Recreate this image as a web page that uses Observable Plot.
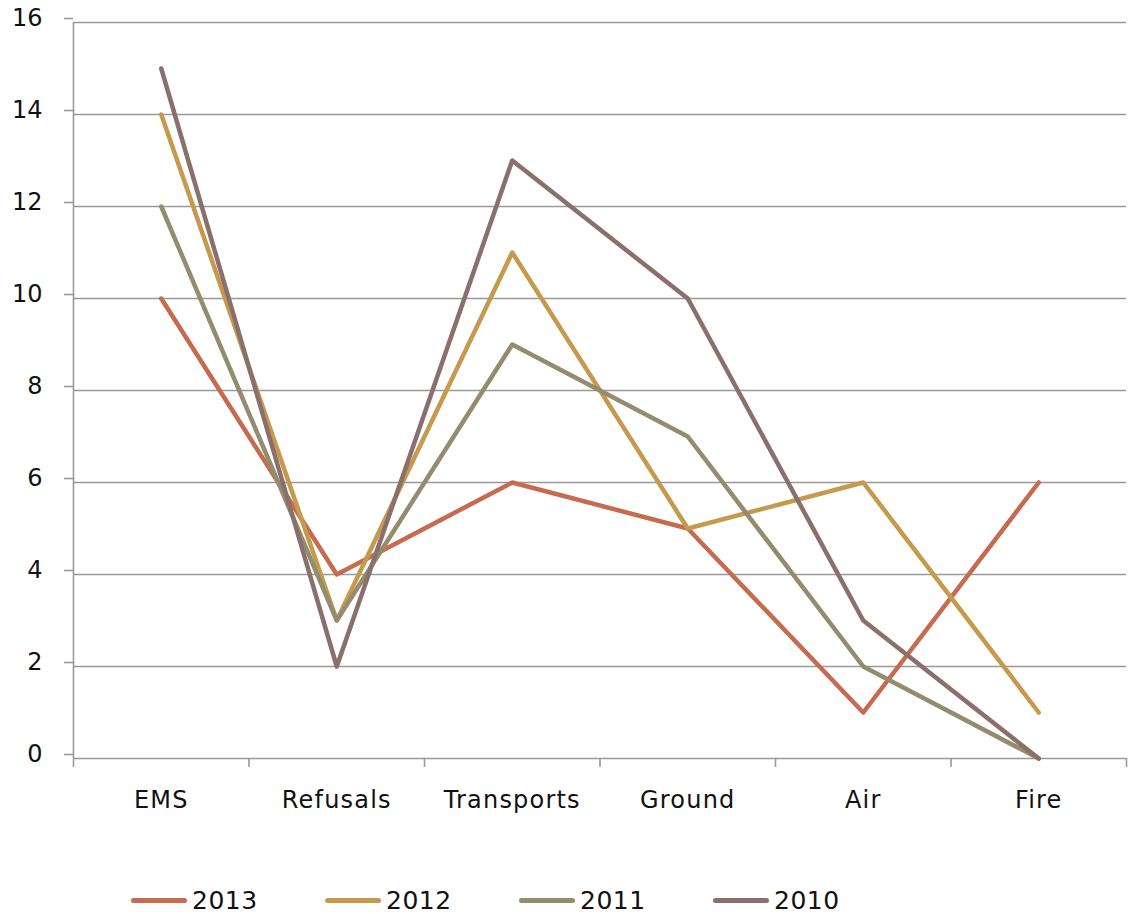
<!DOCTYPE html>
<html>
<head>
<meta charset="utf-8">
<script src="https://cdn.jsdelivr.net/npm/d3@7"></script>
<script src="https://cdn.jsdelivr.net/npm/@observablehq/plot@0.6"></script>
<style>
  html, body { margin: 0; padding: 0; background: #fff; }
  body { width: 1132px; height: 914px; overflow: hidden; font-family: "DejaVu Sans", sans-serif; }
  #chart svg { display: block; }
  #chart g[aria-label="x-axis tick label"] text { letter-spacing: 1.2px; }
  #legend { display: flex; align-items: center; padding-left: 131px; height: 54px; margin-top: 13px; }
  .item { display: flex; align-items: center; width: 194px; }
  .sw { width: 56px; height: 5px; border-radius: 3px; margin-right: 5px; }
  .lab { font-size: 25px; letter-spacing: 0.5px; color: #111; line-height: 1; }
</style>
</head>
<body>
<div id="chart"></div>
<div id="legend"></div>
<script>
const categories = ["EMS", "Refusals", "Transports", "Ground", "Air", "Fire"];
const seriesNames = ["2013", "2012", "2011", "2010"];
const values2013 = [10, 4, 6, 5, 1, 6];
const values2012 = [14, 3, 11, 5, 6, 1];
const values2011 = [12, 3, 9, 7, 2, 0];
const values2010 = [15, 2, 13, 10, 3, 0];
const colors = ["#C66A50", "#C69A4C", "#938C6E", "#8A706C"];
const yTicks = [0, 2, 4, 6, 8, 10, 12, 14, 16];

const allValues = [values2013, values2012, values2011, values2010];
const data = [];
seriesNames.forEach((s, si) => {
  allValues[si].forEach((v, i) => data.push({series: s, idx: i, cat: categories[i], value: v}));
});
const centers = categories.map((c, i) => i);
const bounds = d3.range(categories.length + 1).map(i => i - 0.5);

const chart = Plot.plot({
  width: 1132,
  height: 860,
  marginLeft: 73,
  marginRight: 6,
  marginTop: 22,
  marginBottom: 102,
  style: {fontFamily: "DejaVu Sans, sans-serif", fontSize: "24px", color: "#111", background: "#fff"},
  x: {type: "linear", domain: [-0.5, categories.length - 0.5]},
  y: {domain: [0, 16]},
  color: {domain: seriesNames, range: colors},
  marks: [
    Plot.gridY(yTicks, {stroke: "#999", strokeOpacity: 1, strokeWidth: 1.6}),
    Plot.ruleX([bounds[0]], {stroke: "#999", strokeWidth: 1.6}),
    Plot.axisY({ticks: yTicks, tickSize: 9, tickPadding: 22, stroke: "#999", strokeOpacity: 1, strokeWidth: 1.6, fontSize: 24, dy: -4, label: null, fill: "#111"}),
    Plot.axisX({ticks: bounds, tickSize: 9, stroke: "#999", strokeOpacity: 1, strokeWidth: 1.6, tickFormat: () => "", label: null}),
    Plot.axisX({ticks: centers, tickSize: 0, tickPadding: 32, tickFormat: i => categories[i], fontSize: 24, label: null, fill: "#111"}),
    Plot.line(data, {x: "idx", y: "value", z: "series", stroke: "series", strokeWidth: 4.5, strokeLinecap: "round", strokeLinejoin: "round"})
  ]
});
document.getElementById("chart").append(chart);

const legend = document.getElementById("legend");
seriesNames.forEach((s, i) => {
  const item = document.createElement("div");
  item.className = "item";
  const sw = document.createElement("div");
  sw.className = "sw";
  sw.style.background = colors[i];
  const lab = document.createElement("span");
  lab.className = "lab";
  lab.textContent = s;
  item.append(sw, lab);
  legend.append(item);
});
</script>
</body>
</html>
